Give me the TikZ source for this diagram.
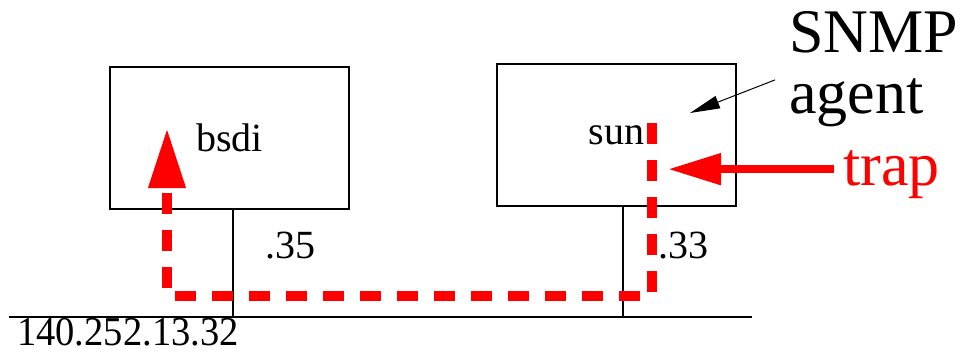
\documentclass[tikz,border=0pt]{standalone}
\usepackage{fontspec}
\setmainfont{Liberation Serif}
\usetikzlibrary{arrows.meta, positioning}

\begin{document}
\begin{tikzpicture}[x=1pt, y=-1pt]
% Define styles
\tikzstyle{host}=[rectangle, draw, line width=1.2pt, minimum width=239pt, minimum height=142pt, font=\fontsize{40}{48}\selectfont]
\tikzstyle{lbl}=[inner sep=0pt, anchor=base west, font=\fontsize{40}{48}\selectfont]
\tikzstyle{big}=[inner sep=0pt, anchor=base west, font=\fontsize{62}{70}\selectfont]
\tikzstyle{wire}=[line width=1.2pt]
\tikzstyle{path}=[red, line width=10pt, dash pattern=on 21pt off 16pt, -{Triangle[length=60pt, width=35pt]}]
\tikzstyle{traparrow}=[red, line width=8pt, -{Triangle[length=53pt, width=30pt]}]
\tikzstyle{arrow}=[line width=1pt, -{Triangle[length=30pt, width=13pt]}]
\useasboundingbox (0,0) rectangle (974,354);
% Place nodes
\node[host] (bsdi) at (229.5,138) {bsdi};
\node[host] (sun) at (616.5,135) {sun};
\coordinate (busl) at (9,317);
\coordinate (busr) at (752,317);
\node[lbl] (l35) at (265,258) {.35};
\node[lbl] (l33) at (658,258) {.33};
\node[inner sep=0pt, anchor=base west, font=\fontsize{41}{48}\selectfont, xscale=0.94] (net) at (17,345.5) {140.252.13.32};
\node[big] (snmp) at (789,52) {SNMP};
\node[big] (agent) at (789,113) {agent};
\node[big, text=red] (trap) at (843,185) {trap};
\coordinate (agenttip) at (690,113);
\coordinate (trapstart) at (652,123);
% Draw lines
\draw[wire] (busl) -- (busr);
\draw[wire] ([xshift=3.5pt]bsdi.south) -- ([xshift=3.5pt]bsdi.south |- busl);
\draw[wire] ([xshift=6.5pt]sun.south) -- ([xshift=6.5pt]sun.south |- busl);
% Draw arrows
\draw[path] (trapstart) |- (167,296) -- ([xshift=-62.5pt,yshift=10pt]bsdi.center);
\draw[traparrow] ([xshift=-9pt,yshift=5pt]trap.west) -- ++(-166,0);
\draw[arrow] ([xshift=-14pt,yshift=-2pt]agent.north west) -- (agenttip);
\end{tikzpicture}
\end{document}
